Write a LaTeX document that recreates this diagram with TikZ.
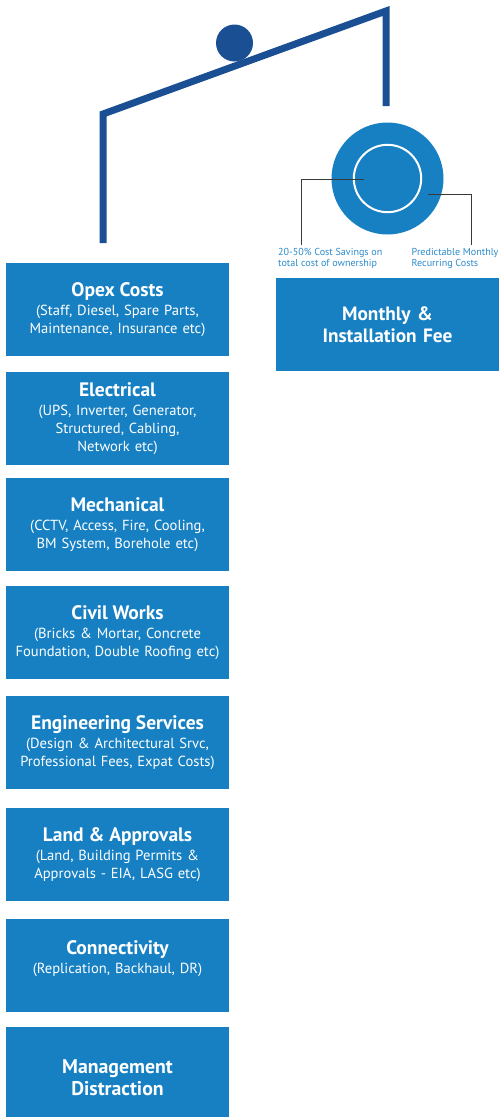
\documentclass[tikz,border=0pt]{standalone}
\usepackage{fontspec}
\setmainfont{PT Sans}
\usepackage{xcolor}

\definecolor{boxblue}{HTML}{1680C3}
\definecolor{framenavy}{HTML}{1A4F93}
\definecolor{notegray}{HTML}{3A3A3A}
\definecolor{noteblue}{HTML}{2B8ACB}

\tikzset{
  costbox/.style={fill=boxblue, text=white, anchor=north, inner sep=0pt,
    minimum width=223pt, minimum height=93pt, text width=219pt, align=center,
    font=\fontsize{14.6}{17.8}\selectfont},
  feebox/.style={costbox, font=\fontsize{19.3}{22}\selectfont\bfseries},
  frameline/.style={draw=framenavy, line width=7pt},
  leader/.style={draw=notegray, line width=0.9pt},
  notetext/.style={text=noteblue, anchor=west, inner sep=0pt, align=left,
    font=\fontsize{10.1}{11.6}\selectfont}
}
\newcommand{\boxhead}[1]{{\fontsize{19.5}{20}\selectfont\bfseries #1}\\[1.5pt]}

\begin{document}
\begin{tikzpicture}[x=1pt, y=-1pt]
  \useasboundingbox (0,0) rectangle (500,1117);

  % the tilted beam with the ball on it
  \coordinate (frameL) at (103,243);
  \coordinate (pivotL) at (103,114);
  \coordinate (pivotR) at (386,11);
  \coordinate (frameR) at (386,106);
  \draw[frameline] (frameL) -- (pivotL) -- (pivotR) -- (frameR);
  \node[circle, fill=framenavy, minimum size=37pt, inner sep=0pt] (ball) at (234.5,43) {};

  % disc on the right
  \node[circle, fill=boxblue, minimum size=112pt, inner sep=0pt] (disc) at (387.5,178.5) {};
  \draw[white, line width=2pt] (disc.center) circle (33.7);

  \coordinate (saveTip) at (364,179);
  \coordinate (saveFoot) at (301.7,245);
  \coordinate (predictTip) at (428,194.3);
  \coordinate (predictFoot) at (471.5,245);
  \draw[leader] (saveTip) -| (saveFoot);
  \draw[leader] (predictTip) -| (predictFoot);

  \node[notetext] (savenote) at (278,258.5) {20-50\% Cost Savings on\\total cost of ownership};
  \node[notetext] (predictnote) at (411.5,258.5) {Predictable Monthly\\Recurring Costs};

  \node[feebox] (fee) at (387.5,278) {Monthly \&\\Installation Fee};

  % stack of cost boxes
  \node[costbox] (opex) at (117.5,263) {\boxhead{Opex Costs}(Staff, Diesel, Spare Parts,\\Maintenance, Insurance etc)};
  \node[costbox] (elec) at (117.5,372) {\boxhead{Electrical}(UPS, Inverter, Generator,\\Structured, Cabling,\\Network etc)};
  \node[costbox] (mech) at (117.5,478) {\boxhead{Mechanical}(CCTV, Access, Fire, Cooling,\\BM System, Borehole etc)};
  \node[costbox] (civil) at (117.5,586) {\boxhead{Civil Works}(Bricks \& Mortar, Concrete\\Foundation, Double Roofing etc)};
  \node[costbox] (eng) at (117.5,696) {\boxhead{Engineering Services}(Design \& Architectural Srvc,\\Professional Fees, Expat Costs)};
  \node[costbox] (land) at (117.5,808) {\boxhead{Land \& Approvals}(Land, Building Permits \&\\Approvals - EIA, LASG etc)};
  \node[costbox] (conn) at (117.5,919) {\boxhead{Connectivity}(Replication, Backhaul, DR)\\\mbox{}};
  \node[costbox, minimum height=100pt, font=\fontsize{19.8}{22}\selectfont\bfseries] (mgmt) at (117.5,1027) {Management\\Distraction};
\end{tikzpicture}
\end{document}
